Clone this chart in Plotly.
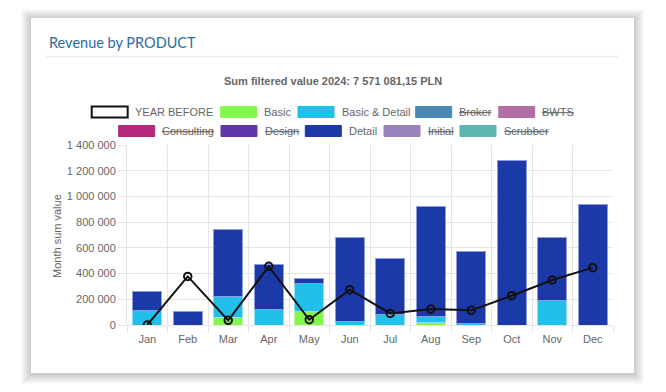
import plotly.graph_objects as go

months = ["Jan", "Feb", "Mar", "Apr", "May", "Jun", "Jul", "Aug", "Sep", "Oct", "Nov", "Dec"]

basic = [0, 0, 55000, 0, 104000, 0, 0, 20000, 0, 0, 0, 0]
basic_detail = [112000, 0, 170000, 119000, 220000, 28000, 85000, 45000, 10000, 0, 194000, 0]
detail = [147000, 106000, 520000, 350000, 40000, 649000, 433000, 860000, 563000, 1283000, 485000, 941000]
year_before = [0, 378000, 36000, 456000, 41000, 275000, 90000, 124000, 114000, 228000, 350000, 446000]

y_ticks = [0, 200000, 400000, 600000, 800000, 1000000, 1200000, 1400000]

legend_names = ["YEAR BEFORE", "Basic", "Basic & Detail", "Broker", "BWTS",
                "Consulting", "Design", "Detail", "Initial", "Scrubber"]
legend_colors = ["#ffffff", "#84f54c", "#22bfea", "#4a89b4", "#b06ea3",
                 "#b3287a", "#6135a9", "#1b3aa8", "#9b82bd", "#5bb5b0"]
legend_hidden = [False, False, False, True, True, True, True, False, True, True]

# ---- layout geometry (screen pixels; page body has an 8px margin) ----
OFF = 8
W_FIG, H_FIG = 666 - 2 * OFF, 392 - 2 * OFF
L, T, PW, PH = 127, 145, 486, 180   # plot area in screen pixels

def px(x):
    return (x - L) / PW

def py(y):
    return (T + PH - y) / PH

GRID = "#e5e5e5"
TXT = "#666666"
FONT = "Liberation Sans, Arial, sans-serif"
FS = 11

fig = go.Figure()

fig.add_trace(go.Bar(x=months, y=basic, name="Basic", marker=dict(color="#84f54c", line=dict(color="#c2f9a6", width=1)), showlegend=False))
fig.add_trace(go.Bar(x=months, y=basic_detail, name="Basic & Detail", marker=dict(color="#22bfea", line=dict(color="#90dff4", width=1)), showlegend=False))
fig.add_trace(go.Bar(x=months, y=detail, name="Detail", marker=dict(color="#1b3aa8", line=dict(color="#8d9ce0", width=1)), showlegend=False))
fig.add_trace(go.Scatter(x=months, y=year_before, name="YEAR BEFORE", mode="lines+markers",
                         line=dict(color="#111111", width=2),
                         marker=dict(symbol="circle-open", size=7.5, color="#111111", line=dict(width=2)),
                         showlegend=False))

shapes = []
# card shadow
for i in range(1, 11):
    shapes.append(dict(type="rect", xref="paper", yref="paper",
                       x0=px(31 - i), x1=px(634 + i), y0=py(18 - i + 1), y1=py(373 + i + 1),
                       fillcolor="rgba(0,0,0,0.02)", line=dict(width=0), layer="below"))
# card
shapes.append(dict(type="rect", xref="paper", yref="paper",
                   x0=px(31), x1=px(634), y0=py(18), y1=py(373),
                   fillcolor="#ffffff", line=dict(width=0), layer="below"))
# separator under title
shapes.append(dict(type="line", xref="paper", yref="paper",
                   x0=px(46), x1=px(618), y0=py(56.5), y1=py(56.5),
                   line=dict(color="#ececec", width=1.5), layer="below"))

annotations = []
annotations.append(dict(text="Revenue by PRODUCT", xref="paper", yref="paper",
                        x=px(46.5), y=py(42), xanchor="left", yanchor="middle", showarrow=False,
                        font=dict(family="Lato, sans-serif", size=14.5, color="#2b6c9e")))
annotations.append(dict(text="<b>Sum filtered value 2024: 7 571 081,15 PLN</b>", xref="paper", yref="paper",
                        x=px(333), y=py(81), xanchor="center", yanchor="middle", showarrow=False,
                        font=dict(family=FONT, size=FS, color=TXT)))
annotations.append(dict(text="Month sum value", xref="paper", yref="paper",
                        x=px(57), y=py(236), xanchor="center", yanchor="middle", showarrow=False,
                        textangle=-90, font=dict(family=FONT, size=FS, color=TXT)))

# legend (Chart.js style, centered rows)
box_lefts = [91.7, 220.7, 298, 415.7, 498.7, 118.7, 221, 305.3, 384, 460]
row_y = [112, 112, 112, 112, 112, 131, 131, 131, 131, 131]
for name, col, hid, bx, ry in zip(legend_names, legend_colors, legend_hidden, box_lefts, row_y):
    if name == "YEAR BEFORE":
        line = dict(color="#111111", width=2)
    else:
        line = dict(color=col, width=1)
    shapes.append(dict(type="rect", xref="paper", yref="paper",
                       x0=px(bx), x1=px(bx + 36), y0=py(ry - 5.5), y1=py(ry + 5.5),
                       fillcolor=col, line=line, layer="above"))
    label = f"<s>{name}</s>" if hid else name
    annotations.append(dict(text=label, xref="paper", yref="paper",
                            x=px(bx + 41.5), y=py(ry), xanchor="left", yanchor="middle",
                            showarrow=False, font=dict(family=FONT, size=FS, color=TXT)))

fig.update_layout(
    width=W_FIG, height=H_FIG,
    margin=dict(l=L - OFF, r=W_FIG - (L - OFF) - PW, t=T - OFF, b=H_FIG - (T - OFF) - PH, pad=0),
    paper_bgcolor="#ffffff", plot_bgcolor="rgba(0,0,0,0)",
    barmode="stack", bargap=0.28,
    separators=", ",
    font=dict(family=FONT, size=FS, color=TXT),
    shapes=shapes, annotations=annotations,
    showlegend=False,
)
fig.update_xaxes(type="category", tickson="boundaries", showgrid=True, gridcolor=GRID, gridwidth=1,
                 ticks="outside", ticklen=7, tickcolor=GRID, showline=True, linecolor=GRID, mirror=False,
                 ticklabelstandoff=4,
                 tickfont=dict(size=FS, color=TXT), range=[-0.5, 11.5], zeroline=False)
fig.update_yaxes(range=[0, 1400000], tickvals=y_ticks, tickformat=",d", showgrid=True, gridcolor=GRID,
                 ticks="outside", ticklen=8, tickcolor=GRID, showline=True, linecolor=GRID,
                 zeroline=False, tickfont=dict(size=FS, color=TXT))

fig.write_html("out.html")
